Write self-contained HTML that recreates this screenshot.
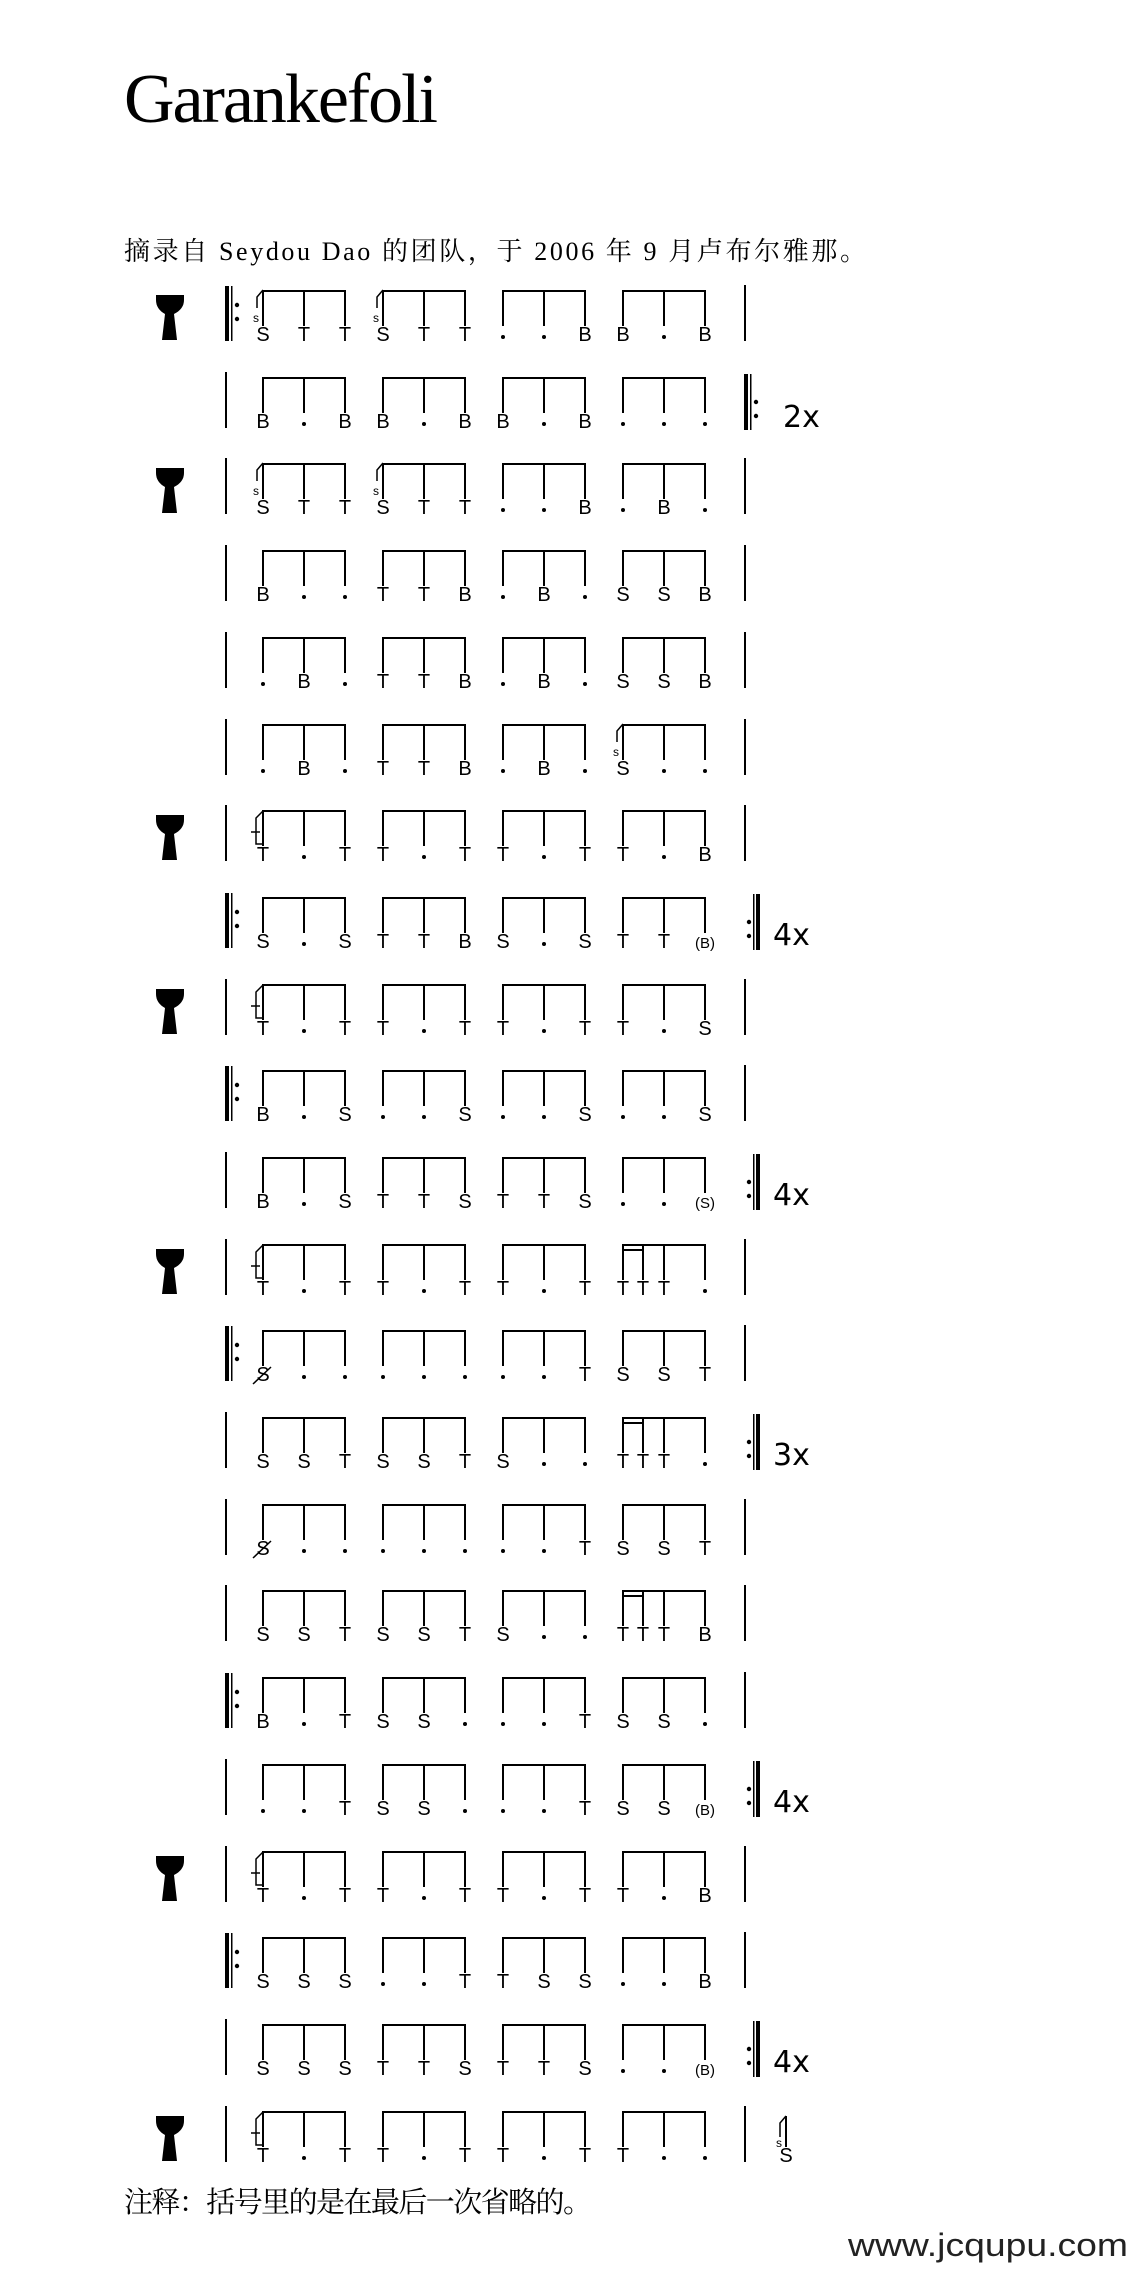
<!DOCTYPE html>
<html><head><meta charset="utf-8"><style>
html,body{margin:0;padding:0;background:#fff;}
svg{display:block;}
.n{font-family:"Liberation Sans",sans-serif;font-size:20px;text-anchor:middle;fill:#000;}
.sm{font-family:"Liberation Sans",sans-serif;font-size:12px;text-anchor:middle;fill:#000;}
.p{font-family:"Liberation Sans",sans-serif;font-size:15px;text-anchor:middle;fill:#000;}
.rx{font-family:"DejaVu Sans","Liberation Sans",sans-serif;font-size:30px;fill:#000;}
</style></head><body>
<svg width="1143" height="2279" viewBox="0 0 1143 2279" xmlns="http://www.w3.org/2000/svg">
<defs>
<g id="b"><rect x="-1" y="0" width="84" height="2"/><rect x="-1" y="0" width="2" height="36"/><rect x="40" y="0" width="2" height="36"/><rect x="81" y="0" width="2" height="36"/></g>
<g id="b16"><rect x="-1" y="0" width="84" height="2"/><rect x="-1" y="5" width="22" height="2"/><rect x="-1" y="0" width="2" height="36"/><rect x="19" y="0" width="2" height="36"/><rect x="40" y="0" width="2" height="36"/><rect x="81" y="0" width="2" height="36"/></g>
<path id="drum" d="M156,5 H184 V10 Q184,19 174,24 L177,50 H162 L165,24 Q156,19 156,10 Z"/>
<g id="fs"><path d="M0,0 L-6,7 V18" stroke="#000" stroke-width="1.5" fill="none"/><text class="sm" x="-7" y="32">s</text></g>
<g id="ft"><path d="M0,1 L-7,8 V34 H0 M-12,22 H-3" stroke="#000" stroke-width="1.5" fill="none"/></g>
<g id="sl"><path d="M-10,54 L8,37" stroke="#000" stroke-width="1.5"/></g>
<g id="ro"><rect x="225" y="-4" width="4" height="55"/><rect x="231" y="-4" width="1.5" height="55"/><circle cx="237" cy="15" r="2.2"/><circle cx="237" cy="29" r="2.2"/></g>
<rect id="sb" x="225" y="-5" width="2" height="56"/>
<rect id="eb" x="744" y="-5" width="2" height="56"/>
<g id="rc"><circle cx="749" cy="25" r="2.2"/><circle cx="749" cy="39" r="2.2"/><rect x="753" y="-3" width="1.5" height="56"/><rect x="756" y="-3" width="4" height="56"/></g>
<g id="rend2"><rect x="744" y="-3" width="4" height="56"/><rect x="750" y="-3" width="1.5" height="56"/><circle cx="756" cy="25" r="2.2"/><circle cx="756" cy="39" r="2.2"/></g>
</defs>

<text x="124" y="122" font-family="Liberation Serif,serif" font-size="70" textLength="314">Garankefoli</text>
<text x="124" y="260" font-family="'Liberation Serif','Noto Serif CJK SC',serif" font-size="26" textLength="742">摘录自 Seydou Dao 的团队，于 2006 年 9 月卢布尔雅那。</text>

<!-- Row 0 -->
<g transform="translate(0,290)"><use href="#drum"/><use href="#ro"/><use href="#eb"/>
<g transform="translate(263,0)"><use href="#b"/><use href="#fs"/><text class="n" x="0" y="51">S</text><text class="n" x="41" y="51">T</text><text class="n" x="82" y="51">T</text></g>
<g transform="translate(383,0)"><use href="#b"/><use href="#fs"/><text class="n" x="0" y="51">S</text><text class="n" x="41" y="51">T</text><text class="n" x="82" y="51">T</text></g>
<g transform="translate(503,0)"><use href="#b"/><circle cx="0" cy="47" r="2"/><circle cx="41" cy="47" r="2"/><text class="n" x="82" y="51">B</text></g>
<g transform="translate(623,0)"><use href="#b"/><text class="n" x="0" y="51">B</text><circle cx="41" cy="47" r="2"/><text class="n" x="82" y="51">B</text></g>
</g>
<!-- Row 1 -->
<g transform="translate(0,377)"><use href="#sb"/><use href="#rend2"/><text class="rx" x="783" y="50">2x</text>
<g transform="translate(263,0)"><use href="#b"/><text class="n" x="0" y="51">B</text><circle cx="41" cy="47" r="2"/><text class="n" x="82" y="51">B</text></g>
<g transform="translate(383,0)"><use href="#b"/><text class="n" x="0" y="51">B</text><circle cx="41" cy="47" r="2"/><text class="n" x="82" y="51">B</text></g>
<g transform="translate(503,0)"><use href="#b"/><text class="n" x="0" y="51">B</text><circle cx="41" cy="47" r="2"/><text class="n" x="82" y="51">B</text></g>
<g transform="translate(623,0)"><use href="#b"/><circle cx="0" cy="47" r="2"/><circle cx="41" cy="47" r="2"/><circle cx="82" cy="47" r="2"/></g>
</g>
<!-- Row 2 -->
<g transform="translate(0,463)"><use href="#drum"/><use href="#sb"/><use href="#eb"/>
<g transform="translate(263,0)"><use href="#b"/><use href="#fs"/><text class="n" x="0" y="51">S</text><text class="n" x="41" y="51">T</text><text class="n" x="82" y="51">T</text></g>
<g transform="translate(383,0)"><use href="#b"/><use href="#fs"/><text class="n" x="0" y="51">S</text><text class="n" x="41" y="51">T</text><text class="n" x="82" y="51">T</text></g>
<g transform="translate(503,0)"><use href="#b"/><circle cx="0" cy="47" r="2"/><circle cx="41" cy="47" r="2"/><text class="n" x="82" y="51">B</text></g>
<g transform="translate(623,0)"><use href="#b"/><circle cx="0" cy="47" r="2"/><text class="n" x="41" y="51">B</text><circle cx="82" cy="47" r="2"/></g>
</g>
<!-- Row 3 -->
<g transform="translate(0,550)"><use href="#sb"/><use href="#eb"/>
<g transform="translate(263,0)"><use href="#b"/><text class="n" x="0" y="51">B</text><circle cx="41" cy="47" r="2"/><circle cx="82" cy="47" r="2"/></g>
<g transform="translate(383,0)"><use href="#b"/><text class="n" x="0" y="51">T</text><text class="n" x="41" y="51">T</text><text class="n" x="82" y="51">B</text></g>
<g transform="translate(503,0)"><use href="#b"/><circle cx="0" cy="47" r="2"/><text class="n" x="41" y="51">B</text><circle cx="82" cy="47" r="2"/></g>
<g transform="translate(623,0)"><use href="#b"/><text class="n" x="0" y="51">S</text><text class="n" x="41" y="51">S</text><text class="n" x="82" y="51">B</text></g>
</g>
<!-- Row 4 -->
<g transform="translate(0,637)"><use href="#sb"/><use href="#eb"/>
<g transform="translate(263,0)"><use href="#b"/><circle cx="0" cy="47" r="2"/><text class="n" x="41" y="51">B</text><circle cx="82" cy="47" r="2"/></g>
<g transform="translate(383,0)"><use href="#b"/><text class="n" x="0" y="51">T</text><text class="n" x="41" y="51">T</text><text class="n" x="82" y="51">B</text></g>
<g transform="translate(503,0)"><use href="#b"/><circle cx="0" cy="47" r="2"/><text class="n" x="41" y="51">B</text><circle cx="82" cy="47" r="2"/></g>
<g transform="translate(623,0)"><use href="#b"/><text class="n" x="0" y="51">S</text><text class="n" x="41" y="51">S</text><text class="n" x="82" y="51">B</text></g>
</g>
<!-- Row 5 -->
<g transform="translate(0,724)"><use href="#sb"/><use href="#eb"/>
<g transform="translate(263,0)"><use href="#b"/><circle cx="0" cy="47" r="2"/><text class="n" x="41" y="51">B</text><circle cx="82" cy="47" r="2"/></g>
<g transform="translate(383,0)"><use href="#b"/><text class="n" x="0" y="51">T</text><text class="n" x="41" y="51">T</text><text class="n" x="82" y="51">B</text></g>
<g transform="translate(503,0)"><use href="#b"/><circle cx="0" cy="47" r="2"/><text class="n" x="41" y="51">B</text><circle cx="82" cy="47" r="2"/></g>
<g transform="translate(623,0)"><use href="#b"/><use href="#fs"/><text class="n" x="0" y="51">S</text><circle cx="41" cy="47" r="2"/><circle cx="82" cy="47" r="2"/></g>
</g>
<!-- Row 6 -->
<g transform="translate(0,810)"><use href="#drum"/><use href="#sb"/><use href="#eb"/>
<g transform="translate(263,0)"><use href="#b"/><use href="#ft"/><text class="n" x="0" y="51">T</text><circle cx="41" cy="47" r="2"/><text class="n" x="82" y="51">T</text></g>
<g transform="translate(383,0)"><use href="#b"/><text class="n" x="0" y="51">T</text><circle cx="41" cy="47" r="2"/><text class="n" x="82" y="51">T</text></g>
<g transform="translate(503,0)"><use href="#b"/><text class="n" x="0" y="51">T</text><circle cx="41" cy="47" r="2"/><text class="n" x="82" y="51">T</text></g>
<g transform="translate(623,0)"><use href="#b"/><text class="n" x="0" y="51">T</text><circle cx="41" cy="47" r="2"/><text class="n" x="82" y="51">B</text></g>
</g>
<!-- Row 7 -->
<g transform="translate(0,897)"><use href="#ro"/><use href="#rc"/><text class="rx" x="773" y="48">4x</text>
<g transform="translate(263,0)"><use href="#b"/><text class="n" x="0" y="51">S</text><circle cx="41" cy="47" r="2"/><text class="n" x="82" y="51">S</text></g>
<g transform="translate(383,0)"><use href="#b"/><text class="n" x="0" y="51">T</text><text class="n" x="41" y="51">T</text><text class="n" x="82" y="51">B</text></g>
<g transform="translate(503,0)"><use href="#b"/><text class="n" x="0" y="51">S</text><circle cx="41" cy="47" r="2"/><text class="n" x="82" y="51">S</text></g>
<g transform="translate(623,0)"><use href="#b"/><text class="n" x="0" y="51">T</text><text class="n" x="41" y="51">T</text><text class="p" x="82" y="51">(B)</text></g>
</g>
<!-- Row 8 -->
<g transform="translate(0,984)"><use href="#drum"/><use href="#sb"/><use href="#eb"/>
<g transform="translate(263,0)"><use href="#b"/><use href="#ft"/><text class="n" x="0" y="51">T</text><circle cx="41" cy="47" r="2"/><text class="n" x="82" y="51">T</text></g>
<g transform="translate(383,0)"><use href="#b"/><text class="n" x="0" y="51">T</text><circle cx="41" cy="47" r="2"/><text class="n" x="82" y="51">T</text></g>
<g transform="translate(503,0)"><use href="#b"/><text class="n" x="0" y="51">T</text><circle cx="41" cy="47" r="2"/><text class="n" x="82" y="51">T</text></g>
<g transform="translate(623,0)"><use href="#b"/><text class="n" x="0" y="51">T</text><circle cx="41" cy="47" r="2"/><text class="n" x="82" y="51">S</text></g>
</g>
<!-- Row 9 -->
<g transform="translate(0,1070)"><use href="#ro"/><use href="#eb"/>
<g transform="translate(263,0)"><use href="#b"/><text class="n" x="0" y="51">B</text><circle cx="41" cy="47" r="2"/><text class="n" x="82" y="51">S</text></g>
<g transform="translate(383,0)"><use href="#b"/><circle cx="0" cy="47" r="2"/><circle cx="41" cy="47" r="2"/><text class="n" x="82" y="51">S</text></g>
<g transform="translate(503,0)"><use href="#b"/><circle cx="0" cy="47" r="2"/><circle cx="41" cy="47" r="2"/><text class="n" x="82" y="51">S</text></g>
<g transform="translate(623,0)"><use href="#b"/><circle cx="0" cy="47" r="2"/><circle cx="41" cy="47" r="2"/><text class="n" x="82" y="51">S</text></g>
</g>
<!-- Row 10 -->
<g transform="translate(0,1157)"><use href="#sb"/><use href="#rc"/><text class="rx" x="773" y="48">4x</text>
<g transform="translate(263,0)"><use href="#b"/><text class="n" x="0" y="51">B</text><circle cx="41" cy="47" r="2"/><text class="n" x="82" y="51">S</text></g>
<g transform="translate(383,0)"><use href="#b"/><text class="n" x="0" y="51">T</text><text class="n" x="41" y="51">T</text><text class="n" x="82" y="51">S</text></g>
<g transform="translate(503,0)"><use href="#b"/><text class="n" x="0" y="51">T</text><text class="n" x="41" y="51">T</text><text class="n" x="82" y="51">S</text></g>
<g transform="translate(623,0)"><use href="#b"/><circle cx="0" cy="47" r="2"/><circle cx="41" cy="47" r="2"/><text class="p" x="82" y="51">(S)</text></g>
</g>
<!-- Row 11 -->
<g transform="translate(0,1244)"><use href="#drum"/><use href="#sb"/><use href="#eb"/>
<g transform="translate(263,0)"><use href="#b"/><use href="#ft"/><text class="n" x="0" y="51">T</text><circle cx="41" cy="47" r="2"/><text class="n" x="82" y="51">T</text></g>
<g transform="translate(383,0)"><use href="#b"/><text class="n" x="0" y="51">T</text><circle cx="41" cy="47" r="2"/><text class="n" x="82" y="51">T</text></g>
<g transform="translate(503,0)"><use href="#b"/><text class="n" x="0" y="51">T</text><circle cx="41" cy="47" r="2"/><text class="n" x="82" y="51">T</text></g>
<g transform="translate(623,0)"><use href="#b16"/><text class="n" x="0" y="51">T</text><text class="n" x="20" y="51">T</text><text class="n" x="41" y="51">T</text><circle cx="82" cy="47" r="2"/></g>
</g>
<!-- Row 12 -->
<g transform="translate(0,1330)"><use href="#ro"/><use href="#eb"/>
<g transform="translate(263,0)"><use href="#b"/><text class="n" x="0" y="51">S</text><use href="#sl"/><circle cx="41" cy="47" r="2"/><circle cx="82" cy="47" r="2"/></g>
<g transform="translate(383,0)"><use href="#b"/><circle cx="0" cy="47" r="2"/><circle cx="41" cy="47" r="2"/><circle cx="82" cy="47" r="2"/></g>
<g transform="translate(503,0)"><use href="#b"/><circle cx="0" cy="47" r="2"/><circle cx="41" cy="47" r="2"/><text class="n" x="82" y="51">T</text></g>
<g transform="translate(623,0)"><use href="#b"/><text class="n" x="0" y="51">S</text><text class="n" x="41" y="51">S</text><text class="n" x="82" y="51">T</text></g>
</g>
<!-- Row 13 -->
<g transform="translate(0,1417)"><use href="#sb"/><use href="#rc"/><text class="rx" x="773" y="48">3x</text>
<g transform="translate(263,0)"><use href="#b"/><text class="n" x="0" y="51">S</text><text class="n" x="41" y="51">S</text><text class="n" x="82" y="51">T</text></g>
<g transform="translate(383,0)"><use href="#b"/><text class="n" x="0" y="51">S</text><text class="n" x="41" y="51">S</text><text class="n" x="82" y="51">T</text></g>
<g transform="translate(503,0)"><use href="#b"/><text class="n" x="0" y="51">S</text><circle cx="41" cy="47" r="2"/><circle cx="82" cy="47" r="2"/></g>
<g transform="translate(623,0)"><use href="#b16"/><text class="n" x="0" y="51">T</text><text class="n" x="20" y="51">T</text><text class="n" x="41" y="51">T</text><circle cx="82" cy="47" r="2"/></g>
</g>
<!-- Row 14 -->
<g transform="translate(0,1504)"><use href="#sb"/><use href="#eb"/>
<g transform="translate(263,0)"><use href="#b"/><text class="n" x="0" y="51">S</text><use href="#sl"/><circle cx="41" cy="47" r="2"/><circle cx="82" cy="47" r="2"/></g>
<g transform="translate(383,0)"><use href="#b"/><circle cx="0" cy="47" r="2"/><circle cx="41" cy="47" r="2"/><circle cx="82" cy="47" r="2"/></g>
<g transform="translate(503,0)"><use href="#b"/><circle cx="0" cy="47" r="2"/><circle cx="41" cy="47" r="2"/><text class="n" x="82" y="51">T</text></g>
<g transform="translate(623,0)"><use href="#b"/><text class="n" x="0" y="51">S</text><text class="n" x="41" y="51">S</text><text class="n" x="82" y="51">T</text></g>
</g>
<!-- Row 15 -->
<g transform="translate(0,1590)"><use href="#sb"/><use href="#eb"/>
<g transform="translate(263,0)"><use href="#b"/><text class="n" x="0" y="51">S</text><text class="n" x="41" y="51">S</text><text class="n" x="82" y="51">T</text></g>
<g transform="translate(383,0)"><use href="#b"/><text class="n" x="0" y="51">S</text><text class="n" x="41" y="51">S</text><text class="n" x="82" y="51">T</text></g>
<g transform="translate(503,0)"><use href="#b"/><text class="n" x="0" y="51">S</text><circle cx="41" cy="47" r="2"/><circle cx="82" cy="47" r="2"/></g>
<g transform="translate(623,0)"><use href="#b16"/><text class="n" x="0" y="51">T</text><text class="n" x="20" y="51">T</text><text class="n" x="41" y="51">T</text><text class="n" x="82" y="51">B</text></g>
</g>
<!-- Row 16 -->
<g transform="translate(0,1677)"><use href="#ro"/><use href="#eb"/>
<g transform="translate(263,0)"><use href="#b"/><text class="n" x="0" y="51">B</text><circle cx="41" cy="47" r="2"/><text class="n" x="82" y="51">T</text></g>
<g transform="translate(383,0)"><use href="#b"/><text class="n" x="0" y="51">S</text><text class="n" x="41" y="51">S</text><circle cx="82" cy="47" r="2"/></g>
<g transform="translate(503,0)"><use href="#b"/><circle cx="0" cy="47" r="2"/><circle cx="41" cy="47" r="2"/><text class="n" x="82" y="51">T</text></g>
<g transform="translate(623,0)"><use href="#b"/><text class="n" x="0" y="51">S</text><text class="n" x="41" y="51">S</text><circle cx="82" cy="47" r="2"/></g>
</g>
<!-- Row 17 -->
<g transform="translate(0,1764)"><use href="#sb"/><use href="#rc"/><text class="rx" x="773" y="48">4x</text>
<g transform="translate(263,0)"><use href="#b"/><circle cx="0" cy="47" r="2"/><circle cx="41" cy="47" r="2"/><text class="n" x="82" y="51">T</text></g>
<g transform="translate(383,0)"><use href="#b"/><text class="n" x="0" y="51">S</text><text class="n" x="41" y="51">S</text><circle cx="82" cy="47" r="2"/></g>
<g transform="translate(503,0)"><use href="#b"/><circle cx="0" cy="47" r="2"/><circle cx="41" cy="47" r="2"/><text class="n" x="82" y="51">T</text></g>
<g transform="translate(623,0)"><use href="#b"/><text class="n" x="0" y="51">S</text><text class="n" x="41" y="51">S</text><text class="p" x="82" y="51">(B)</text></g>
</g>
<!-- Row 18 -->
<g transform="translate(0,1851)"><use href="#drum"/><use href="#sb"/><use href="#eb"/>
<g transform="translate(263,0)"><use href="#b"/><use href="#ft"/><text class="n" x="0" y="51">T</text><circle cx="41" cy="47" r="2"/><text class="n" x="82" y="51">T</text></g>
<g transform="translate(383,0)"><use href="#b"/><text class="n" x="0" y="51">T</text><circle cx="41" cy="47" r="2"/><text class="n" x="82" y="51">T</text></g>
<g transform="translate(503,0)"><use href="#b"/><text class="n" x="0" y="51">T</text><circle cx="41" cy="47" r="2"/><text class="n" x="82" y="51">T</text></g>
<g transform="translate(623,0)"><use href="#b"/><text class="n" x="0" y="51">T</text><circle cx="41" cy="47" r="2"/><text class="n" x="82" y="51">B</text></g>
</g>
<!-- Row 19 -->
<g transform="translate(0,1937)"><use href="#ro"/><use href="#eb"/>
<g transform="translate(263,0)"><use href="#b"/><text class="n" x="0" y="51">S</text><text class="n" x="41" y="51">S</text><text class="n" x="82" y="51">S</text></g>
<g transform="translate(383,0)"><use href="#b"/><circle cx="0" cy="47" r="2"/><circle cx="41" cy="47" r="2"/><text class="n" x="82" y="51">T</text></g>
<g transform="translate(503,0)"><use href="#b"/><text class="n" x="0" y="51">T</text><text class="n" x="41" y="51">S</text><text class="n" x="82" y="51">S</text></g>
<g transform="translate(623,0)"><use href="#b"/><circle cx="0" cy="47" r="2"/><circle cx="41" cy="47" r="2"/><text class="n" x="82" y="51">B</text></g>
</g>
<!-- Row 20 -->
<g transform="translate(0,2024)"><use href="#sb"/><use href="#rc"/><text class="rx" x="773" y="48">4x</text>
<g transform="translate(263,0)"><use href="#b"/><text class="n" x="0" y="51">S</text><text class="n" x="41" y="51">S</text><text class="n" x="82" y="51">S</text></g>
<g transform="translate(383,0)"><use href="#b"/><text class="n" x="0" y="51">T</text><text class="n" x="41" y="51">T</text><text class="n" x="82" y="51">S</text></g>
<g transform="translate(503,0)"><use href="#b"/><text class="n" x="0" y="51">T</text><text class="n" x="41" y="51">T</text><text class="n" x="82" y="51">S</text></g>
<g transform="translate(623,0)"><use href="#b"/><circle cx="0" cy="47" r="2"/><circle cx="41" cy="47" r="2"/><text class="p" x="82" y="51">(B)</text></g>
</g>
<!-- Row 21 -->
<g transform="translate(0,2111)"><use href="#drum"/><use href="#sb"/><use href="#eb"/>
<g transform="translate(263,0)"><use href="#b"/><use href="#ft"/><text class="n" x="0" y="51">T</text><circle cx="41" cy="47" r="2"/><text class="n" x="82" y="51">T</text></g>
<g transform="translate(383,0)"><use href="#b"/><text class="n" x="0" y="51">T</text><circle cx="41" cy="47" r="2"/><text class="n" x="82" y="51">T</text></g>
<g transform="translate(503,0)"><use href="#b"/><text class="n" x="0" y="51">T</text><circle cx="41" cy="47" r="2"/><text class="n" x="82" y="51">T</text></g>
<g transform="translate(623,0)"><use href="#b"/><text class="n" x="0" y="51">T</text><circle cx="41" cy="47" r="2"/><circle cx="82" cy="47" r="2"/></g>
<g transform="translate(786,0)"><rect x="-1" y="5" width="2" height="31"/><path d="M0,5 L-6,12 V26" stroke="#000" stroke-width="1.5" fill="none"/><text class="sm" x="-7" y="36">s</text><text class="n" x="0" y="51">S</text></g>
</g>

<text x="124" y="2212" font-family="'Liberation Serif','Noto Serif CJK SC',serif" font-size="29" textLength="468">注释：括号里的是在最后一次省略的。</text>
<text x="848" y="2256" font-family="'Liberation Sans',sans-serif" font-size="32" fill="#222" textLength="280" lengthAdjust="spacingAndGlyphs">www.jcqupu.com</text>
</svg>
</body></html>
